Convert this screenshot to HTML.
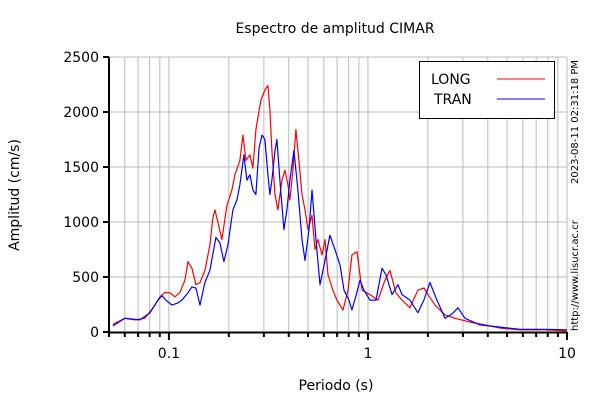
<!DOCTYPE html>
<html><head><meta charset="utf-8"><style>
body{margin:0;background:#fff}
svg{display:block;font-family:"DejaVu Sans","Liberation Sans",sans-serif}
</style></head><body>
<svg id="chart" width="600" height="400" viewBox="0 0 600 400">
<rect width="600" height="400" fill="#fff"/>
<text x="335" y="33" text-anchor="middle" font-size="14">Espectro de amplitud CIMAR</text>
<g id="grid"></g>
<g id="series"></g>
<g id="axes"></g>
<text transform="translate(19,195) rotate(-90)" text-anchor="middle" font-size="14">Amplitud (cm/s)</text>
<text x="336" y="390" text-anchor="middle" font-size="14">Periodo (s)</text>
<g>
<rect x="419.5" y="61.5" width="135" height="57" fill="#fff" stroke="#000"/>
<text x="431" y="84" font-size="14">LONG</text>
<line x1="497" y1="79" x2="545" y2="79" stroke="#f00"/>
<text x="434" y="104" font-size="14">TRAN</text>
<line x1="497" y1="99" x2="545" y2="99" stroke="#00f"/>
</g>
<text transform="translate(578,184) rotate(-90)" font-size="10">2023-08-11 02:31:18 PM</text>
<text transform="translate(578,331) rotate(-90)" font-size="10">http://www.lisucr.ac.cr</text>
</svg>
<script>
const yTicks=[0,500,1000,1500,2000,2500];
const xLabels=[0.1,1,10];
const longPeriods=[0.0523,0.0601,0.0675,0.0757,0.0851,0.0901,0.0955,0.1012,0.1072,0.1136,0.1203,0.1246,0.1305,0.1367,0.1432,0.1517,0.1607,0.1664,0.1703,0.1763,0.1846,0.1956,0.2073,0.2146,0.2274,0.2354,0.2437,0.2553,0.2643,0.2736,0.2800,0.2900,0.3037,0.3144,0.3218,0.3293,0.3410,0.3530,0.3696,0.3827,0.3963,0.4055,0.4199,0.4347,0.4500,0.4660,0.4826,0.4996,0.5232,0.5417,0.5609,0.5873,0.6081,0.6295,0.6669,0.6985,0.7488,0.7934,0.8309,0.8805,0.9329,1.023,1.123,1.217,1.290,1.382,1.482,1.625,1.783,1.911,2.002,2.171,2.437,2.737,3.255,3.872,4.606,5.805,7.75,10];
const longValues=[70,125,110,125,245,320,360,355,320,360,470,640,580,430,450,560,790,1040,1110,1000,840,1150,1290,1430,1560,1790,1560,1610,1490,1840,1950,2110,2200,2240,2020,1650,1250,1110,1380,1470,1340,1200,1470,1840,1560,1250,1110,930,1060,750,840,700,840,520,380,290,200,380,700,730,380,340,290,470,560,355,290,220,380,400,340,245,155,125,90,65,35,20,20,10];
const tranPeriods=[0.0523,0.0601,0.0715,0.0803,0.0881,0.0922,0.0966,0.1035,0.1110,0.1162,0.1246,0.1305,0.1367,0.1432,0.1517,0.1607,0.1722,0.1804,0.1890,0.1979,0.2097,0.2196,0.2274,0.2381,0.2466,0.2553,0.2643,0.2736,0.2834,0.2934,0.3037,0.3144,0.3218,0.3293,0.3410,0.3488,0.3612,0.3783,0.3917,0.4055,0.4247,0.4448,0.4660,0.4826,0.5054,0.5232,0.5480,0.5739,0.6081,0.6442,0.6825,0.7234,0.7575,0.8027,0.8309,0.8704,0.9117,0.9548,1.023,1.097,1.176,1.232,1.320,1.415,1.482,1.625,1.783,1.911,2.049,2.197,2.437,2.643,2.833,3.072,3.655,4.606,5.805,7.75,10];
const tranValues=[55,125,110,175,290,330,290,245,265,290,355,410,400,245,450,560,860,810,640,790,1110,1200,1340,1610,1380,1430,1290,1250,1670,1790,1750,1430,1250,1380,1650,1750,1380,930,1110,1380,1650,1290,840,650,930,1290,840,430,650,880,750,610,380,290,200,330,470,380,290,290,580,520,340,430,340,290,175,290,450,310,125,165,220,125,65,45,25,25,20];

const NS='http://www.w3.org/2000/svg';
const L=109,R=567,T=57,B=332,xmin=0.05,xmax=10,ymax=2500;
const xs=v=>L+(Math.log10(v)-Math.log10(xmin))/(Math.log10(xmax)-Math.log10(xmin))*(R-L);
const ys=v=>B-v/ymax*(B-T);
function mk(tag,attrs,parent){const e=document.createElementNS(NS,tag);for(const k in attrs)e.setAttribute(k,attrs[k]);parent.appendChild(e);return e;}
const grid=document.getElementById('grid'),axes=document.getElementById('axes'),series=document.getElementById('series');
for(let d=-2;d<=0;d++){for(let m=1;m<=9;m++){const v=m*Math.pow(10,d);if(v<xmin-1e-9||v>xmax+1e-9)continue;const x=xs(v);
const gl=mk('line',{x1:x,y1:T,x2:x,y2:B,stroke:'#bbb','stroke-width':1},grid);


const tk=mk('line',{x1:x,y1:B,x2:x,y2:B+(m===1?8:5),stroke:'#000','stroke-width':2},axes);

}}
{const x=xs(10);const tk=mk('line',{x1:x,y1:T,x2:x,y2:B,stroke:'#bbb'},grid);
const t2=mk('line',{x1:x,y1:B,x2:x,y2:B+8,stroke:'#000','stroke-width':2},axes);}
yTicks.forEach(v=>{const y=ys(v);
const gl=mk('line',{x1:L,y1:y,x2:R,y2:y,stroke:'#bbb'},grid);


const tk=mk('line',{x1:L-6,y1:y,x2:L,y2:y,stroke:'#000','stroke-width':2},axes);


const t=mk('text',{x:L-10,y:y+5,'text-anchor':'end','font-size':14},axes);t.textContent=v;

});
xLabels.forEach(v=>{const t=mk('text',{x:xs(v),y:B+26,'text-anchor':'middle','font-size':14},axes);t.textContent=v;

});
const ax=mk('path',{d:`M${L},${T} V${B+0.5} H${R}`,fill:'none',stroke:'#000','stroke-width':2},axes);


function draw(p,v,c,name){const pts=p.map((x,i)=>xs(x).toFixed(1)+','+ys(v[i]).toFixed(1)).join(' ');
const pl=mk('polyline',{points:pts,fill:'none',stroke:c,'stroke-width':1.2,'stroke-linejoin':'round'},series);

}
draw(longPeriods,longValues,'#f00','series-long');
draw(tranPeriods,tranValues,'#00f','series-tran');
</script>
</body></html>
